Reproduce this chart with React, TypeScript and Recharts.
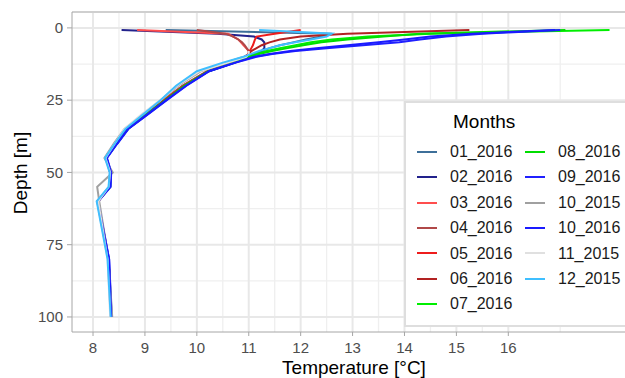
import { ScatterChart, Scatter, XAxis, YAxis, CartesianGrid, ReferenceLine } from 'recharts';

// depth of each sample, m
const depths = [0.7, 2, 3, 4, 5, 6, 7, 8, 9, 10, 12, 15, 20, 25, 30, 35, 40, 45, 50, 55, 60, 80, 100];

const months = ['01_2016', '02_2016', '03_2016', '04_2016', '05_2016', '06_2016', '07_2016',
  '08_2016', '09_2016', '10_2015', '10_2016', '11_2015', '12_2015'];

const colors = ['#3d6f99', '#22228c', '#ff4d4d', '#b04848', '#ee1c1c', '#b22222', '#00ee00',
  '#00dd00', '#2020ff', '#a0a0a0', '#1a1aff', '#e0e0e0', '#3fbfff'];

// temperature (°C) at each depth, null where no sample
const temps01 = [9.4, 12.6, 12.4, 12.1, 11.85, 11.6, 11.4, 11.25, 11.1, 10.95, 10.68, 10.2, 9.72, 9.35, 9.0, 8.66, 8.45, 8.26, 8.33, 8.31, 8.1, 8.3, 8.36];
const temps02 = [8.55, 10.4, 11.1, 11.25, 11.3, 11.3, 11.3, 11.25, 11.1, 10.95, 10.68, 10.22, 9.74, 9.37, 9.0, 8.65, 8.44, 8.25, 8.34, 8.32, 8.09, 8.3, 8.35];
const temps03 = [8.85, 10.6, 10.7, 10.8, 10.85, 10.9, 10.95, 11.0, 11.0, 10.92, 10.66, 10.2, 9.73, 9.36, 8.99, 8.64, 8.44, 8.24, 8.33, 8.31, 8.08, 8.29, 8.34];
const temps04 = [10.0, 10.55, 10.7, 10.8, 10.87, 10.92, 10.96, 11.0, 11.0, 10.92, 10.67, 10.21, 9.74, 9.37, 9.0, 8.65, 8.45, 8.25, 8.33, 8.32, 8.1, 8.3, 8.35];
const temps05 = [12.0, 11.5, 11.15, 11.12, 11.1, 11.08, 11.05, 11.02, 11.0, 10.93, 10.67, 10.21, 9.74, 9.38, 9.01, 8.65, 8.45, 8.25, 8.34, 8.32, 8.09, 8.3, 8.35];
const temps06 = [15.25, 12.9, 12.0, 11.6, 11.4, 11.25, 11.15, 11.05, 11.0, 10.93, 10.68, 10.22, 9.75, 9.38, 9.01, 8.66, 8.45, 8.25, 8.33, 8.32, 8.1, 8.3, 8.35];
const temps07 = [17.95, 14.5, 13.3, 12.6, 12.2, 11.9, 11.6, 11.35, 11.15, 11.0, 10.72, 10.22, 9.76, 9.4, 9.03, 8.67, 8.46, 8.26, 8.34, 8.33, 8.09, 8.3, 8.35];
const temps08 = [17.1, 14.3, 13.6, 12.9, 12.4, 12.05, 11.75, 11.45, 11.2, 11.02, 10.73, 10.23, 9.77, 9.4, 9.03, 8.67, 8.46, 8.26, 8.34, 8.33, 8.09, 8.3, 8.35];
const temps09 = [17.0, 15.5, 14.8, 14.3, 13.9, 13.2, 12.5, 11.9, 11.45, 11.15, 10.75, 10.24, 9.8, 9.42, 9.05, 8.68, 8.47, 8.27, 8.35, 8.34, 8.1, 8.31, 8.36];
const temps10a = [null, null, null, null, null, null, null, null, null, 10.9, 10.55, 10.08, 9.64, 9.3, 8.95, 8.6, 8.4, 8.22, 8.38, 8.08, 8.12, 8.3, 8.37];
const temps10b = [16.9, 15.3, 14.5, 14.0, 13.5, 12.9, 12.3, 11.8, 11.4, 11.1, 10.74, 10.23, 9.79, 9.41, 9.04, 8.67, 8.46, 8.26, 8.35, 8.33, 8.09, 8.31, 8.35];
const temps11 = [null, null, null, null, null, null, null, 11.0, 11.0, 10.95, 10.6, 10.05, 9.62, 9.3, 8.93, 8.6, 8.42, 8.24, 8.33, 8.3, 8.1, 8.28, 8.33];
const temps12 = [11.2, 12.6, 12.5, 12.2, 11.9, 11.6, 11.4, 11.2, 11.05, 10.9, 10.5, 10.0, 9.6, 9.3, 8.96, 8.62, 8.42, 8.23, 8.32, 8.3, 8.07, 8.28, 8.34];

const temperatures = [temps01, temps02, temps03, temps04, temps05, temps06, temps07,
  temps08, temps09, temps10a, temps10b, temps11, temps12];

const xTicks = [8, 9, 10, 11, 12, 13, 14, 15, 16];
const xMinor = [8.5, 9.5, 10.5, 11.5, 12.5, 13.5, 14.5, 15.5, 16.5, 17];
const yTicks = [0, 25, 50, 75, 100];
const yMinor = [12.5, 37.5, 62.5, 87.5];

const xDomain = [7.595, 18.46];
const yDomain = [-5.5, 105.2];

const series = months.map((name, i) => ({
  name,
  color: colors[i],
  points: depths
    .map((d, j) => ({ t: temperatures[i][j], d }))
    .filter(p => p.t !== null),
}));

const font = "'Liberation Sans', Arial, sans-serif";

function XTitle({ viewBox }: any) {
  const { x, y, width, height } = viewBox;
  return (
    <text x={x + width / 2} y={y + height - 3.7} textAnchor="middle" fontSize={19} fill="#000" fontFamily={font}>
      Temperature [°C]
    </text>
  );
}

function YTitle({ viewBox }: any) {
  const { y, height } = viewBox;
  const cx = 26.7;
  const cy = y + height / 2 + 1;
  return (
    <text x={cx} y={cy} transform={`rotate(-90, ${cx}, ${cy})`} textAnchor="middle" fontSize={19} fill="#000" fontFamily={font}>
      Depth [m]
    </text>
  );
}

function MonthsLegend() {
  return (
    <div style={{
      position: 'absolute', left: 404, top: 101, width: 240, height: 226,
      boxSizing: 'border-box', border: '2px solid #dedede', background: '#fff', fontFamily: font,
    }}>
      <div style={{ position: 'absolute', left: 47, top: 9, fontSize: 19, lineHeight: '19px', color: '#000' }}>Months</div>
      {series.map((s, i) => {
        const col = i < 7 ? 0 : 1;
        const row = i % 7;
        const cy = 48.7 + row * 25.4;
        return (
          <div key={s.name}>
            <div style={{ position: 'absolute', left: 11 + col * 108, top: cy - 1, width: 20, height: 2, background: s.color }} />
            <div style={{ position: 'absolute', left: 44 + col * 108, top: cy - 7.8, fontSize: 16, lineHeight: '16px', color: '#1a1a1a' }}>
              {s.name}
            </div>
          </div>
        );
      })}
    </div>
  );
}

export default function App() {
  return (
    <div style={{ position: 'absolute', left: 0, top: 0, width: 625, height: 378, overflow: 'hidden', background: '#fff', fontFamily: font }}>
      <ScatterChart width={636} height={378} margin={{ top: 12, right: 0, bottom: 0, left: 0 }}>
        <CartesianGrid horizontalValues={yMinor} verticalValues={xMinor} stroke="#efefef" strokeWidth={1.3} />
        <CartesianGrid horizontalValues={yTicks} verticalValues={xTicks} stroke="#e8e8e8" strokeWidth={2} />
        <XAxis
          type="number"
          dataKey="t"
          domain={xDomain}
          ticks={xTicks}
          height={46}
          tickSize={4}
          tickMargin={6}
          stroke="#a6a6a6"
          tick={{ fill: '#4d4d4d', fontSize: 15, fontFamily: font }}
          label={{ content: XTitle }}
        />
        <YAxis
          type="number"
          dataKey="d"
          domain={yDomain}
          reversed
          ticks={yTicks}
          width={72}
          tickSize={5}
          tickMargin={4}
          stroke="#a6a6a6"
          tick={{ fill: '#4d4d4d', fontSize: 15, fontFamily: font }}
          label={{ content: YTitle }}
        />
        <ReferenceLine y={yDomain[0]} stroke="#cfcfcf" strokeWidth={2} />
        {series.map(s => (
          <Scatter
            key={s.name}
            name={s.name}
            data={s.points}
            line={{ stroke: s.color, strokeWidth: 2 }}
            shape={() => <g />}
            legendType="none"
            isAnimationActive={false}
          />
        ))}
      </ScatterChart>
      <MonthsLegend />
    </div>
  );
}
